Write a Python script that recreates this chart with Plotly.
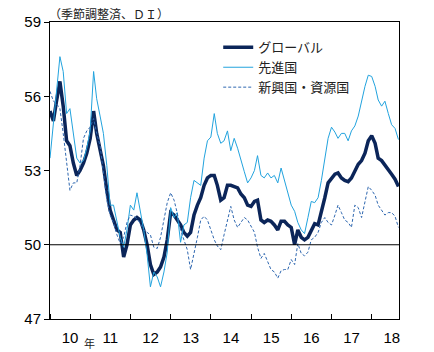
import pandas as pd
import plotly.graph_objects as go

months = pd.date_range("2010-01-01", periods=105, freq="MS")

global_pmi = [
    55.4, 55.0, 55.8, 56.6, 55.6, 54.2, 54.0, 53.3, 52.8, 53.0, 53.3, 53.7,
    54.3, 55.4, 54.5, 53.8, 53.2, 52.2, 51.4, 51.0, 50.6, 50.5, 49.5, 50.0,
    50.8, 51.0, 51.1, 51.0, 50.6, 50.0, 49.2, 48.8, 48.9, 49.1, 49.5, 50.2,
    51.3, 51.2, 51.0, 50.8, 50.5, 50.35, 50.5, 51.2, 51.6, 51.9, 52.4, 52.7,
    52.8, 52.8, 52.4, 51.8, 51.9, 52.4, 52.4, 52.35, 52.3, 52.05, 51.9, 51.6,
    51.55, 51.75, 51.8, 51.0, 50.9, 51.0, 50.95, 50.8, 50.6, 50.95, 50.95, 50.8,
    50.7, 50.0, 50.6, 50.3, 50.2, 50.3, 50.6, 50.85, 50.8, 51.3, 51.9, 52.5,
    52.7, 52.85, 52.9, 52.7, 52.6, 52.55, 52.7, 52.95, 53.25, 53.4, 53.7, 54.2,
    54.4, 54.1, 53.5, 53.4, 53.2, 53.0, 52.85, 52.65, 52.35,
]

advanced_pmi = [
    53.5, 55.0, 56.3, 57.6, 57.0, 55.3, 55.5, 54.4, 53.5, 53.3, 53.4, 53.9,
    54.6, 57.0, 55.9, 55.2, 54.5, 53.2, 51.6, 51.6, 50.9, 50.3, 49.9, 50.6,
    51.6, 51.4, 52.1, 51.4, 50.6, 49.6, 48.3, 48.9, 48.7, 48.3, 48.9, 49.7,
    51.5, 51.1, 51.3, 50.1, 50.8, 50.9, 51.9, 52.6, 52.5, 52.4, 53.5, 54.2,
    54.35, 55.3, 54.5, 54.1, 54.2, 54.6, 53.8, 54.3, 53.9, 53.4, 52.95, 52.5,
    52.7, 53.0, 53.6, 52.8, 52.7, 52.9, 52.7, 52.8, 52.5, 53.1, 52.6, 52.1,
    51.6, 51.35, 50.9, 50.6, 50.45, 51.1, 51.75, 51.7, 51.9, 52.6, 53.4, 54.3,
    54.75, 54.55, 54.3, 54.5, 54.5, 54.2, 54.6, 54.8, 55.2, 55.85, 56.4, 56.85,
    56.8, 56.4, 55.85, 55.6, 55.8, 55.3, 54.85, 54.7, 54.25,
]

emerging_pmi = [
    56.2, 55.8, 55.7, 55.5, 54.5, 53.2, 52.2, 52.5, 52.5, 53.2, 54.3, 54.6,
    54.75, 55.1, 54.5, 54.0, 53.0, 51.8, 51.2, 50.9, 50.4, 50.05, 50.3, 50.9,
    51.2, 51.15, 51.05, 50.85, 50.6, 50.5, 50.4, 49.9, 49.85, 50.3, 51.0, 51.7,
    52.1, 51.8, 51.3, 50.6, 50.2, 49.8, 49.0, 49.6, 50.3, 51.0, 51.15, 51.0,
    50.6, 50.2, 49.95, 49.8, 50.4, 51.0, 51.55, 51.0, 50.7, 50.9, 51.1, 51.0,
    50.75, 50.5, 49.9, 49.45, 49.65, 49.3, 49.0, 48.9, 48.65, 48.95, 49.0, 49.0,
    49.4, 49.2, 50.05, 49.65, 49.55, 49.7, 50.2, 50.3, 50.5, 50.9, 51.1, 50.9,
    50.8, 51.2, 51.6, 51.3, 51.0, 50.9, 50.7, 51.6, 51.5, 51.1, 51.7, 52.35,
    52.2, 52.0, 51.6, 51.4, 51.2, 51.3, 51.3, 51.15, 50.7,
]

series_names = ["グローバル", "先進国", "新興国・資源国"]
y_ticks = [47, 50, 53, 56, 59]

FONT = "Liberation Sans, Arial, Noto Sans CJK JP, sans-serif"
JFONT = "Noto Sans CJK JP, sans-serif"

fig = go.Figure()
fig.add_trace(go.Scatter(x=months, y=global_pmi, name=series_names[0], mode="lines",
                         line=dict(color="#0b2559", width=3.5), legendgroup="a"))
fig.add_trace(go.Scatter(x=months, y=advanced_pmi, name=series_names[1], mode="lines",
                         line=dict(color="#22a3de", width=1), legendgroup="b"))
fig.add_trace(go.Scatter(x=months, y=emerging_pmi, name=series_names[2], mode="lines",
                         line=dict(color="#2e67b0", width=1, dash="3px,2px"), legendgroup="c"))

fig.add_shape(type="line", xref="paper", yref="y", x0=0, x1=1, y0=50, y1=50,
              line=dict(color="black", width=1))

fig.update_layout(
    width=434, height=352,
    margin=dict(l=50, r=35, t=22, b=33),
    paper_bgcolor="white", plot_bgcolor="white",
    font=dict(family=FONT, color="black"),
    showlegend=True,
    legend=dict(x=0.482, y=0.965, xanchor="left", yanchor="top",
                bgcolor="rgba(0,0,0,0)", font=dict(family=JFONT, size=13, color="#222"),
                tracegroupgap=0, itemwidth=30),
    xaxis=dict(
        type="date",
        range=["2010-01-01", "2018-09-06"],
        dtick="M12", tick0="2010-01-01",
        ticklabelmode="period", tickformat="%y",
        ticks="inside", ticklen=5, tickcolor="black",
        ticklabelstandoff=5, automargin=False,
        showline=True, linecolor="black", linewidth=1, mirror=True,
        showgrid=False, zeroline=False,
        tickfont=dict(size=15, family=FONT),
    ),
    yaxis=dict(
        range=[47, 59], tickvals=y_ticks,
        ticks="outside", ticklen=5, tickcolor="black", automargin=False,
        showline=True, linecolor="black", linewidth=1, mirror=True,
        showgrid=False, zeroline=False,
        tickfont=dict(size=15, family=FONT),
    ),
)

fig.add_annotation(text="（季節調整済、ＤＩ）", xref="paper", yref="paper",
                   x=-0.01, y=1.0, xanchor="left", yanchor="bottom", yshift=-2,
                   showarrow=False,
                   font=dict(family=JFONT, size=12, color="#222"))
fig.add_annotation(text="年", xref="paper", yref="paper",
                   x=(89 - 50) / 349, y=-(343 - 319) / 297, xanchor="center", yanchor="middle",
                   showarrow=False,
                   font=dict(family=JFONT, size=11, color="#222"))

fig.write_html("out.html")
